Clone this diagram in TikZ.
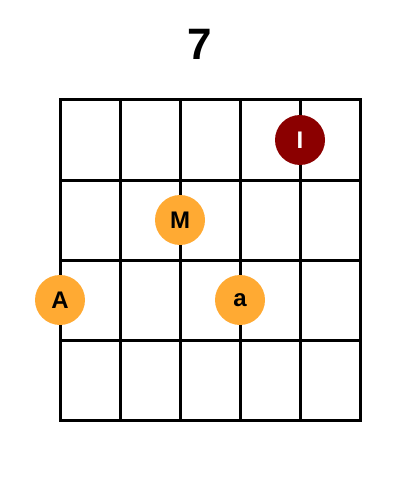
\documentclass[tikz,border=0pt]{standalone}
\usepackage{fontspec}
\setmainfont{Liberation Sans}
\definecolor{fingerorange}{RGB}{255,170,51}
\definecolor{rootred}{RGB}{139,0,0}
\begin{document}
\begin{tikzpicture}[x=1pt,y=-1pt,
fret/.style={%
line width=3pt,
line cap=rect
},
finger/.style={%
circle,
fill=fingerorange,
minimum size=50pt,
inner sep=0pt,
font=\fontsize{24}{24}\selectfont\bfseries
},
root/.style={%
finger,
fill=rootred,
text=white
},
]
\useasboundingbox (0,0) rectangle (400,500);
%% Title
\node[font=\fontsize{44}{44}\selectfont\bfseries](title)at(200,44){7};
%% Grid
\foreach \x in {60,120,...,360}
  \draw[fret](\x,100)--(\x,420);
\foreach \y in {100,180,...,420}
  \draw[fret](60,\y)--(360,\y);
%% Fingers
\node[root](fI)at(300,140){I};
\node[finger](fM)at(180,220){M};
\node[finger](fA)at(60,300){A};
\node[finger](fa)at(240,300){a};
\end{tikzpicture}
\end{document}
